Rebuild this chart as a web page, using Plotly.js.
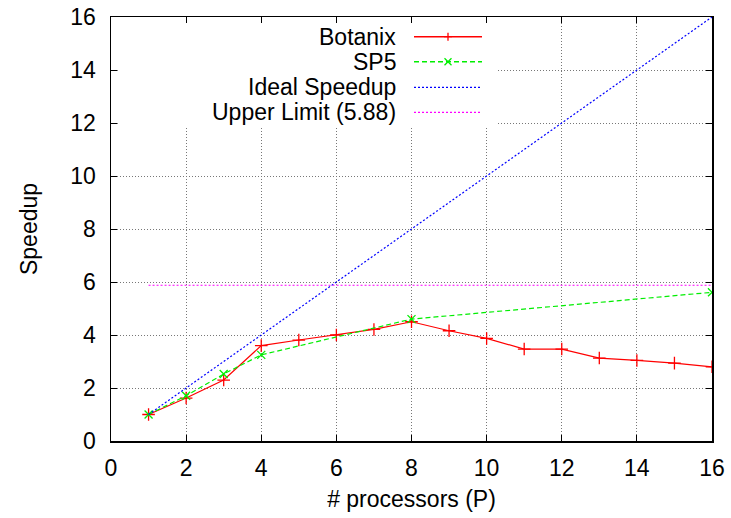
<!DOCTYPE html>
<html>
<head>
<meta charset="utf-8">
<script src="https://cdn.plot.ly/plotly-3.0.1.min.js"></script>
<style>html,body{margin:0;padding:0;background:#fff;}#chart{width:731px;height:518px;}</style>
</head>
<body>
<div id="chart"></div>
<script>
// ---- data ----
var botanixP = [1,2,3,4,5,6,7,8,9,10,11,12,13,14,15,16];
var botanixSpeedup = [1.0,1.62,2.30,3.60,3.81,4.0,4.21,4.50,4.16,3.87,3.47,3.47,3.13,3.04,2.94,2.80];
var sp5P = [1,2,3,4,8,16];
var sp5Speedup = [1.0,1.71,2.53,3.25,4.60,5.61];
var idealP = [1,16];
var idealSpeedup = [1,16];
var upperP = [1,16];
var upperLimit = [5.88,5.88];
var seriesNames = ['Botanix','SP5','Ideal Speedup','Upper Limit (5.88)'];
var xTicks = [0,2,4,6,8,10,12,14,16];
var yTicks = [0,2,4,6,8,10,12,14,16];

var FONT = 'Liberation Sans, Arial, sans-serif';
var RED='#ff0000', GREEN='#00ee00', BLUE='#0000ff', MAG='#ff00ff';
var GREENDASH='5px,3px', DOTS='2px,2px';

var traces = [
  {x: botanixP, y: botanixSpeedup, mode:'lines+markers', name: seriesNames[0],
   line:{color:RED,width:1.2}, marker:{symbol:'cross-thin',size:9,line:{color:RED,width:1.3}}},
  {x: sp5P, y: sp5Speedup, mode:'lines+markers', name: seriesNames[1],
   line:{color:GREEN,width:1.2,dash:GREENDASH}, marker:{symbol:'x-thin',size:8,line:{color:GREEN,width:1.3}}},
  {x: idealP, y: idealSpeedup, mode:'lines', name: seriesNames[2], line:{color:BLUE,width:1.2,dash:DOTS}},
  {x: upperP, y: upperLimit, mode:'lines', name: seriesNames[3], line:{color:MAG,width:1.1,dash:DOTS}}
];

// plot area in pixels
var L=111, R=712, T=17, B=441;
function px(x){return (x-L)/(R-L);}
function py(y){return (B-y)/(B-T);}

var rowY = [36.7, 61.7, 87.3, 112.3];
var textRight = 398, sampleX0 = 414, sampleX1 = 482, sampleMid = 448;
var sampleStyles = [
  {color:RED,width:1.5,dash:'solid'},
  {color:GREEN,width:1.5,dash:GREENDASH},
  {color:BLUE,width:1.2,dash:DOTS},
  {color:MAG,width:1.2,dash:DOTS}
];

var shapes = [{type:'rect',xref:'paper',yref:'paper',layer:'above',
  x0:px(118),x1:px(496),y0:py(126),y1:py(23),fillcolor:'#ffffff',line:{width:0}}];
var annotations = [];
seriesNames.forEach(function(n,i){
  annotations.push({xref:'paper',yref:'paper',x:px(textRight),y:py(rowY[i]),xanchor:'right',yanchor:'middle',
    text:n,showarrow:false,font:{family:FONT,size:23,color:'#000'}});
  shapes.push({type:'line',xref:'paper',yref:'paper',layer:'above',x0:px(sampleX0),x1:px(sampleX1),
    y0:py(rowY[i]),y1:py(rowY[i]),line:sampleStyles[i]});
});
shapes.push({type:'path',xref:'paper',yref:'paper',layer:'above',xsizemode:'pixel',ysizemode:'pixel',
  xanchor:px(sampleMid),yanchor:py(rowY[0]),path:'M-4,0 H4 M0,-4 V4',line:{color:RED,width:1.3}});
shapes.push({type:'path',xref:'paper',yref:'paper',layer:'above',xsizemode:'pixel',ysizemode:'pixel',
  xanchor:px(sampleMid),yanchor:py(rowY[1]),path:'M-3.5,-3.5 L3.5,3.5 M-3.5,3.5 L3.5,-3.5',line:{color:GREEN,width:1.3}});

var axisCommon = {
  showline:true, linecolor:'#000', linewidth:1.5, mirror:'ticks',
  ticks:'inside', ticklen:6, tickwidth:1, tickcolor:'#000',
  showgrid:true, gridcolor:'#777', gridwidth:1, griddash:'1px,2px',
  zeroline:false, tickfont:{family:FONT,size:23,color:'#000'}
};

var layout = {
  width:731, height:518, paper_bgcolor:'#fff', plot_bgcolor:'#fff',
  margin:{l:L, r:731-R, t:T, b:518-B},
  showlegend:false,
  xaxis: Object.assign({}, axisCommon, {range:[0,16], tickvals:xTicks, ticktext:xTicks.map(String),
    ticklabelstandoff:6,
    title:{text:'# processors (P)', font:{family:FONT,size:23,color:'#000'}, standoff:11}}),
  yaxis: Object.assign({}, axisCommon, {range:[0,16], tickvals:yTicks, ticktext:yTicks.map(String),
    ticklabelstandoff:9,
    title:{text:'Speedup', font:{family:FONT,size:23,color:'#000'}, standoff:26}}),
  shapes: shapes,
  annotations: annotations
};

Plotly.newPlot('chart', traces, layout, {staticPlot:true, displayModeBar:false});
</script>
</body>
</html>
